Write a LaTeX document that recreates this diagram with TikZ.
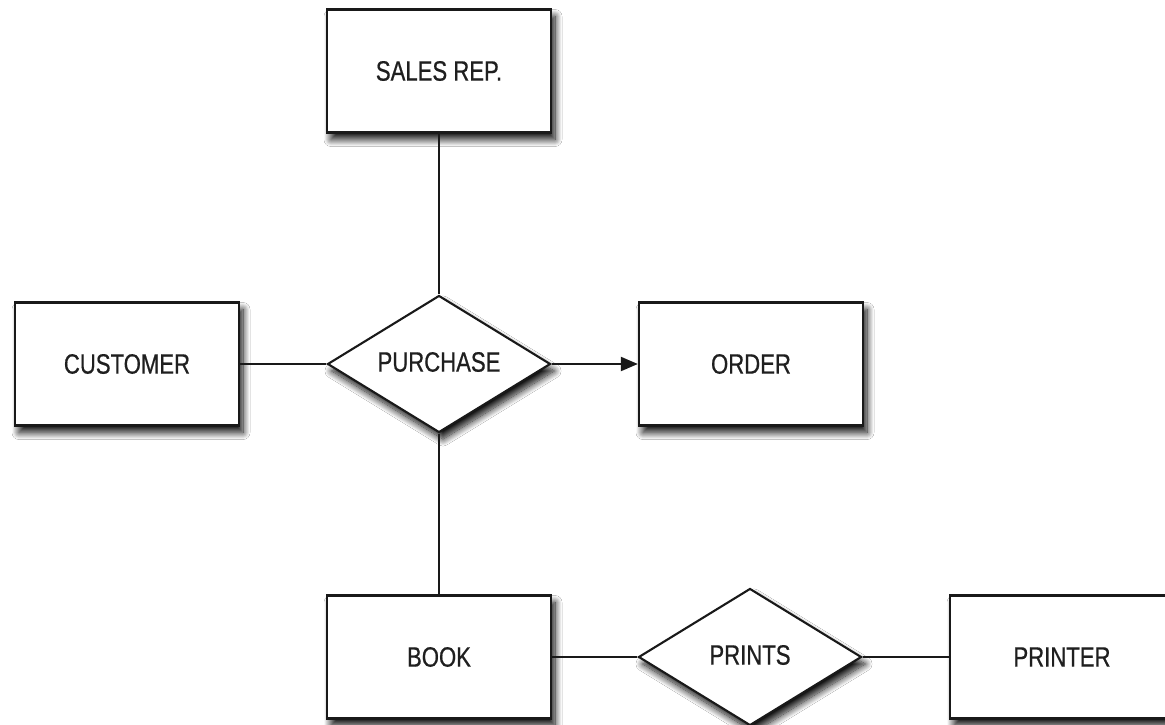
\documentclass[tikz,border=0pt]{standalone}
\usepackage{fontspec}
\setmainfont{Liberation Sans}[FakeStretch=0.79,FakeBold=0.6]
\usetikzlibrary{shapes.geometric,arrows.meta,shadows.blur}
\begin{document}
\begin{tikzpicture}[x=1pt,y=-1pt,
  soft/.style={blur shadow={shadow xshift=4pt,shadow yshift=-7pt,shadow blur radius=7pt,shadow blur steps=14,shadow opacity=95}},
  label/.style={font=\fontsize{28}{32}\selectfont,text=black!88},
  entity/.style={draw=black!90,line width=2.3pt,fill=white,rectangle,minimum width=224pt,minimum height=123pt,inner sep=0pt,soft,label},
  relation/.style={draw=black!90,line width=2.1pt,fill=white,diamond,aspect=1.62,minimum width=223pt,minimum height=137pt,inner sep=0pt,soft},
  link/.style={line width=2.1pt,draw=black!90}]
\useasboundingbox (0,0) rectangle (1165,725);
\fill[white] (0,0) rectangle (1165,725);

% entities
\node[entity] (sales) at (439,71) {SALES REP.};
\node[entity] (customer) at (127,364) {CUSTOMER};
\node[entity] (order) at (751,364) {ORDER};
\node[entity] (book) at (439,657) {BOOK};
\node[entity] (printer) at (1062,657) {PRINTER};

% relationships
\node[relation] (purchase) at (439,364) {};
\node[label] (purchaselabel) at (439,362) {PURCHASE};
\node[relation] (prints) at (750,657) {};
\node[label] (printslabel) at (750,655) {PRINTS};

% connectors
\draw[link] (sales.south) -- (purchase.north);
\draw[link] (customer.east) -- (purchase.west);
\draw[link,-{Triangle[length=17pt,width=14pt]}] (purchase.east) -- (order.west);
\draw[link] (purchase.south) -- (book.north);
\draw[link] (book.east) -- (prints.west);
\draw[link] (prints.east) -- (printer.west);
\end{tikzpicture}
\end{document}
